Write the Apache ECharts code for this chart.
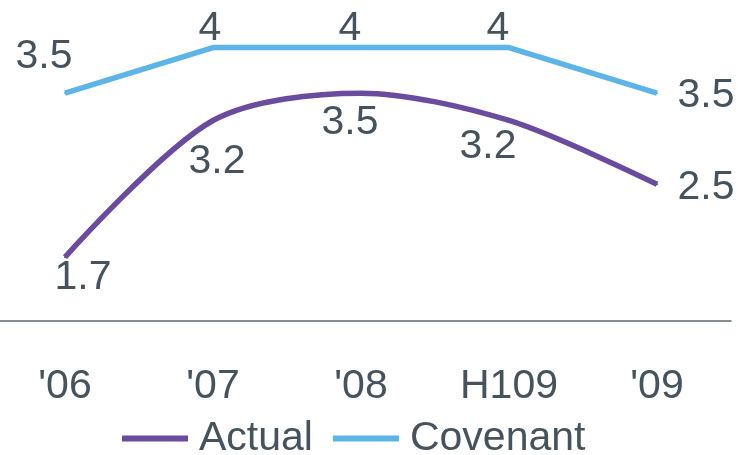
<!DOCTYPE html>
<html>
<head>
<meta charset="utf-8">
<style>
  html, body { margin: 0; padding: 0; background: #ffffff; }
  #chart { width: 738px; height: 455px; }
</style>
<script src="https://cdn.jsdelivr.net/npm/echarts@6/dist/echarts.min.js"></script>
</head>
<body>
<div id="chart"></div>
<script>
// Leverage ratio: actual vs. covenant limit
const categories = ["'06", "'07", "'08", "H109", "'09"];
const actual = [1.7, 3.2, 3.5, 3.2, 2.5];
const covenant = [3.5, 4, 4, 4, 3.5];

const textColor = '#46535d';
const fontFamily = 'Liberation Sans, Arial, sans-serif';
const fontSize = 41;

// label placement for each point (offset of label centre from the point)
const actualLabelOffsets = [[18, 20], [4, 41], [-11, 30], [-21, 26], [49, 3]];
const covenantLabelOffsets = [[-21, -36], [-3, -19], [-11, -19], [-11, -19], [49, 3]];

function withLabels(values, offsets) {
  return values.map((v, i) => ({
    value: v,
    label: { offset: offsets[i] }
  }));
}

const labelBase = {
  show: true,
  position: 'inside',
  align: 'center',
  verticalAlign: 'middle',
  color: textColor,
  fontFamily: fontFamily,
  fontSize: fontSize
};

const chart = echarts.init(document.getElementById('chart'), null, { renderer: 'canvas' });
chart.setOption({
  backgroundColor: '#ffffff',
  animation: false,
  grid: { left: -9, width: 740, top: 2, height: 319, containLabel: false, outerBoundsMode: 'none' },
  xAxis: {
    type: 'category',
    data: categories,
    boundaryGap: true,
    axisLine: { show: true, lineStyle: { color: '#5f6a72', width: 1.5 } },
    axisTick: { show: false },
    axisLabel: {
      color: textColor,
      fontFamily: fontFamily,
      fontSize: fontSize,
      margin: 45
    }
  },
  yAxis: {
    type: 'value',
    min: 1,
    max: 4.5,
    show: false,
    splitLine: { show: false }
  },
  legend: {
    data: ['Actual', 'Covenant'],
    left: 117,
    top: 413,
    icon: 'rect',
    itemWidth: 66,
    itemHeight: 6,
    itemGap: 20,
    textStyle: { color: textColor, fontFamily: fontFamily, fontSize: fontSize, padding: [0, 0, 0, 6] }
  },
  series: [
    {
      name: 'Actual',
      type: 'line',
      smooth: 0.3,
      data: withLabels(actual, actualLabelOffsets),
      symbol: 'circle',
      symbolSize: 2,
      itemStyle: { color: '#6a4b9e' },
      lineStyle: { color: '#6a4b9e', width: 5.5 },
      label: labelBase
    },
    {
      name: 'Covenant',
      type: 'line',
      data: withLabels(covenant, covenantLabelOffsets),
      symbol: 'circle',
      symbolSize: 2,
      itemStyle: { color: '#5cb5e6' },
      lineStyle: { color: '#5cb5e6', width: 5.5 },
      label: labelBase
    }
  ]
});
</script>
</body>
</html>
